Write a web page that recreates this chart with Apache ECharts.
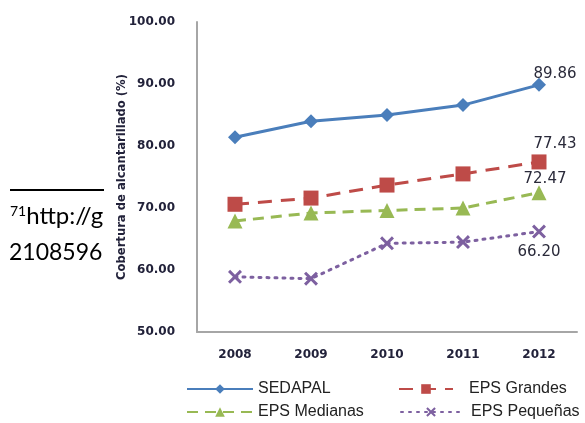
<!DOCTYPE html>
<html><head><meta charset="utf-8">
<script src="https://cdn.jsdelivr.net/npm/echarts@6/dist/echarts.min.js"></script>
<style>html,body{margin:0;padding:0;background:#fff}#c{width:585px;height:423px}</style>
</head><body><div id="c"></div>
<script>
const years = ['2008','2009','2010','2011','2012'];
const sedapal = [81.4, 84.0, 85.0, 86.6, 89.86];
const grandes = [70.6, 71.6, 73.7, 75.5, 77.43];
const medianas = [67.9, 69.2, 69.6, 70.0, 72.47];
const pequenas = [58.9, 58.6, 64.3, 64.5, 66.20];
const yTicks = [50, 60, 70, 80, 90, 100];

const chart = echarts.init(document.getElementById('c'));
const XPATH = 'path://M0,1.5L1.5,0L5,3.5L8.5,0L10,1.5L6.5,5L10,8.5L8.5,10L5,6.5L1.5,10L0,8.5L3.5,5Z';
function lastLabel(data, pos, offset){
  return data.map((v,i)=> i===data.length-1 ? {value:v, label:{show:true, position:pos, offset:offset, formatter: v.toFixed(2)}} : v);
}
const labelStyle = {fontFamily:'DejaVu Sans', fontSize:15, color:'#2a2a3a'};
const legText = {fontFamily:'Liberation Sans', fontSize:16, color:'#222'};
chart.setOption({
  backgroundColor:'#fff',
  animation:false,
  graphic:[
    {type:'rect', z:-2, shape:{x:10,y:189,width:96,height:2}, style:{fill:'#000'}},
    {type:'text', z:-2, left:10, top:204, style:{text:'{s|71}{n|http://gob}', rich:{s:{fontSize:14, fontFamily:'Lato', fill:'#000', verticalAlign:'top', padding:[0,0,10,0]}, n:{fontSize:24, fontFamily:'Lato', fill:'#000'}}}},
    {type:'text', z:-2, left:9, top:241, style:{text:'2108596', fontSize:23, fontFamily:'Lato', fill:'#000'}},
    {type:'rect', z:-1, shape:{x:104,y:0,width:481,height:423}, style:{fill:'#fff'}}
  ],
  grid:{left:197, right:8, top:22, bottom:91},
  xAxis:{type:'category', data:years, boundaryGap:true,
    axisLine:{lineStyle:{color:'#a6a6a6', width:2}}, axisTick:{show:false},
    axisLabel:{fontFamily:'DejaVu Sans', fontWeight:'bold', fontSize:12, color:'#22223a', margin:17}},
  yAxis:{type:'value', min:50, max:100, interval:10,
    name:'Cobertura de alcantarillado (%)', nameLocation:'middle', nameGap:69, nameRotate:90, nameMoveOverlap:false,
    nameTextStyle:{fontFamily:'DejaVu Sans', fontWeight:'bold', fontSize:11.6, color:'#22223a'},
    axisLine:{show:true, lineStyle:{color:'#a6a6a6', width:2}}, axisTick:{show:false}, splitLine:{show:false},
    axisLabel:{fontFamily:'DejaVu Sans', fontWeight:'bold', fontSize:12, color:'#22223a', margin:22, formatter:v=>v.toFixed(2)}},
  legend:[
    {left:186, top:381, padding:0, itemWidth:66, itemHeight:12, data:['SEDAPAL'], textStyle:legText},
    {left:398, top:381, padding:0, itemWidth:54, itemHeight:12, data:['EPS Grandes'], textStyle:Object.assign({padding:[0,0,0,11]}, legText)},
    {left:186, top:404, padding:0, itemWidth:66, itemHeight:12, data:['EPS Medianas'], textStyle:legText},
    {left:400, top:404, padding:0, itemWidth:60, itemHeight:12, data:['EPS Pequeñas'], textStyle:Object.assign({padding:[0,0,0,5]}, legText)}
  ],
  series:[
    {name:'SEDAPAL', type:'line', data:lastLabel(sedapal,'top',[16,9]), symbol:'diamond', symbolSize:14,
      color:'#4a7ebb', lineStyle:{width:3, color:'#4a7ebb'}, itemStyle:{color:'#4a7ebb'}, label:labelStyle},
    {name:'EPS Grandes', type:'line', data:lastLabel(grandes,'top',[16,2]), symbol:'rect', symbolSize:15,
      color:'#be4b48', lineStyle:{width:3, color:'#be4b48', type:[14,9]}, itemStyle:{color:'#be4b48'}, label:labelStyle},
    {name:'EPS Medianas', type:'line', data:lastLabel(medianas,'top',[6,6]), symbol:'triangle', symbolSize:15,
      color:'#98b954', lineStyle:{width:3, color:'#98b954', type:[11,7]}, itemStyle:{color:'#98b954'}, label:labelStyle},
    {name:'EPS Pequeñas', type:'line', data:lastLabel(pequenas,'bottom',[0,1]), symbol:XPATH, symbolSize:14,
      color:'#7d60a0', lineStyle:{width:3, color:'#7d60a0', type:[2,6], cap:'round'}, itemStyle:{color:'#7d60a0'}, label:labelStyle}
  ]
});
</script></body></html>
